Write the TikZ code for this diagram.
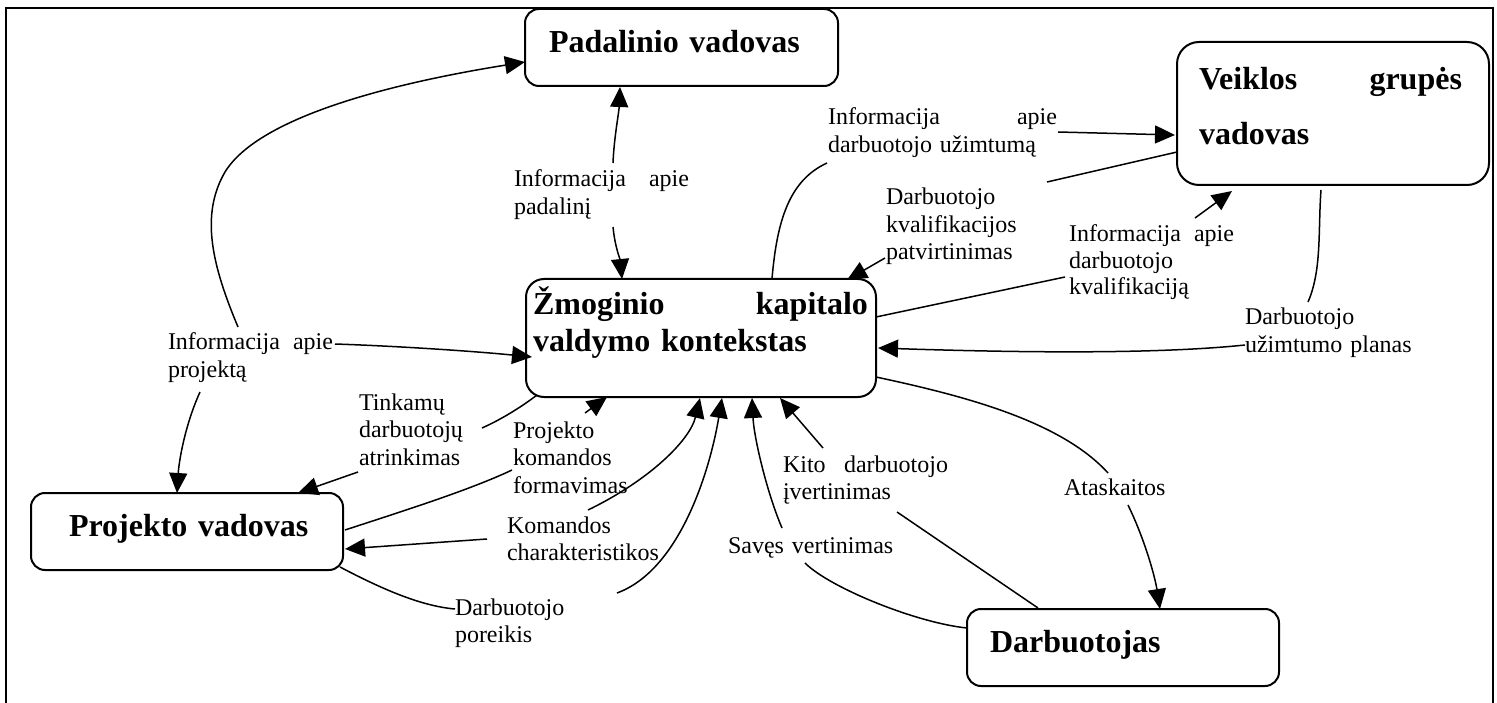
\documentclass[tikz,border=0pt]{standalone}
\usepackage{fontspec}
\setmainfont{Liberation Serif}
\usetikzlibrary{arrows.meta,calc}
% a line set flush to both edges of the given width
\newcommand{\spreadline}[2]{\makebox[#1][s]{#2}}
\begin{document}
\begin{tikzpicture}[x=1pt,y=-1pt,
  box/.style={draw, line width=2pt, rounded corners=14pt, inner sep=0pt, outer sep=0pt, anchor=north west},
  boxtext/.style={font=\fontsize{32}{37}\selectfont\bfseries, anchor=base west, inner sep=0pt, outer sep=0pt, text width=#1, align=left},
  lbl/.style={font=\fontsize{24}{27.5}\selectfont, anchor=base west, inner sep=0pt, outer sep=0pt, text width=#1, align=left},
  flow/.style={line width=1.5pt},
  arr/.style={flow, -{Triangle[length=20pt,width=18pt]}},
]
\useasboundingbox (0,0) rectangle (1497,703);
% outer frame, open at the bottom
\draw[line width=2.5pt] (6,703) -- (6,8) -- (1493,8) -- (1493,703);

% boxes
\node[box, minimum width=313pt, minimum height=77pt] (pad) at (525,9) {};
\node[box, minimum width=312pt, minimum height=143pt, rounded corners=22pt] (veik) at (1177,42) {};
\node[box, minimum width=350pt, minimum height=118pt, rounded corners=18pt] (zmo) at (526,279) {};
\node[box, minimum width=312pt, minimum height=77pt] (proj) at (31,493) {};
\node[box, minimum width=312pt, minimum height=77pt] (darb) at (967,609) {};

% box titles
\node[boxtext=300pt] (padT) at (549,53) {Padalinio vadovas};
\node[boxtext=263pt, font=\fontsize{32}{55}\selectfont\bfseries] (veikT) at (1199,90) {\spreadline{263pt}{Veiklos\hfill grupės}\\vadovas};
\node[boxtext=335pt] (zmoT) at (533,315) {\spreadline{335pt}{Žmoginio\hfill kapitalo}\\valdymo kontekstas};
\node[boxtext=290pt] (projT) at (69,536) {Projekto vadovas};
\node[boxtext=280pt] (darbT) at (990,652) {Darbuotojas};

% flow labels
\node[lbl=175pt] (lA) at (514,187) {\spreadline{175pt}{Informacija\hfill apie}\\padalinį};
\node[lbl=229pt] (lB) at (828,125) {\spreadline{229pt}{Informacija\hfill apie}\\darbuotojo užimtumą};
\node[lbl=160pt] (lC) at (886,205) {Darbuotojo\\kvalifikacijos\\patvirtinimas};
\node[lbl=165pt, font=\fontsize{24}{26.5}\selectfont] (lD) at (1069,242) {\spreadline{165pt}{Informacija\hfill apie}\\darbuotojo\\kvalifikaciją};
\node[lbl=180pt] (lE) at (1245,325) {Darbuotojo\\užimtumo planas};
\node[lbl=165pt] (lF) at (168,350) {\spreadline{165pt}{Informacija\hfill apie}\\projektą};
\node[lbl=110pt] (lG) at (359,410) {Tinkamų\\darbuotojų\\atrinkimas};
\node[lbl=120pt] (lH) at (513,438) {Projekto\\komandos\\formavimas};
\node[lbl=165pt] (lI) at (783,472) {\spreadline{165pt}{Kito\hfill darbuotojo}\\įvertinimas};
\node[lbl=140pt] (lJ) at (507,533) {Komandos\\charakteristikos};
\node[lbl=170pt] (lK) at (728,553) {Savęs vertinimas};
\node[lbl=120pt] (lL) at (455,615) {Darbuotojo\\poreikis};
\node[lbl=110pt] (lM) at (1064,495) {Ataskaitos};

% Informacija apie padalinį (both ways)
\draw[arr] ($(lA.base west)+(99,-24)$) .. controls +(1,-25) and +(-1,25) .. ($(pad.south west)+(95,1)$);
\draw[arr] ($(lA.base west)+(99,40)$) .. controls +(2,20) and +(-2,-20) .. ($(zmo.north west)+(96,0)$);

% Informacija apie darbuotojo užimtumą
\draw[flow] ($(zmo.north west)+(246,0)$) .. controls +(5,-60) and +(-37,17) .. ($(lB.base west)+(-1,38)$);
\draw[arr] ($(lB.base west)+(230,7)$) -- ($(veik.north west)+(-2,93)$);

% Darbuotojo kvalifikacijos patvirtinimas
\draw[flow] ($(veik.north west)+(0,110)$) -- ($(lC.base west)+(161,-23)$);
\draw[arr] ($(lC.base west)+(-1,53)$) -- ($(zmo.north west)+(321,1)$);

% Informacija apie darbuotojo kvalifikaciją
\draw[flow] ($(zmo.north east)+(0,38)$) -- ($(lD.base west)+(-4,35)$);
\draw[arr] ($(lD.base west)+(126,-24)$) -- ($(veik.south west)+(55,6)$);

% Darbuotojo užimtumo planas
\draw[flow] ($(veik.south west)+(144,5)$) .. controls +(-3,40) and +(14,-32) .. ($(lE.base west)+(63,-23)$);
\draw[arr] ($(lE.base west)+(0,20)$) .. controls +(-95,10) and +(122,4) .. ($(zmo.south east)+(2,-49)$);

% Ataskaitos
\draw[flow] ($(zmo.south east)+(0,-20)$) .. controls +(84,18) and +(-48,-53) .. ($(lM.base west)+(44,-22)$);
\draw[arr] ($(lM.base west)+(64,10)$) .. controls +(17,35) and +(-5,-32) .. ($(darb.north west)+(193,0)$);

% Kito darbuotojo įvertinimas
\draw[arr] ($(lI.base west)+(40,-24)$) -- ($(zmo.south west)+(254,1)$);
\draw[flow] ($(lI.base west)+(114,40)$) -- ($(darb.north west)+(71,-1)$);

% Savęs vertinimas
\draw[arr] ($(lK.base west)+(54,-25)$) .. controls +(-15,-35) and +(2,40) .. ($(zmo.south west)+(226,1)$);
\draw[flow] ($(lK.base west)+(77,10)$) .. controls +(25,25) and +(-50,-5) .. ($(darb.north west)+(0,19)$);

% Darbuotojo poreikis
\draw[arr] ($(lL.base west)+(162,-22)$) .. controls +(63,-23) and +(-12,72) .. ($(zmo.south west)+(196,1)$);
\draw[flow] ($(proj.south east)+(-3,-3)$) .. controls +(40,21) and +(-35,-3) .. ($(lL.base west)+(0,-6)$);

% Komandos charakteristikos
\draw[arr] ($(lJ.base west)+(81,-23)$) .. controls +(62,-30) and +(-10,42) .. ($(zmo.south west)+(174,1)$);
\draw[arr] ($(lJ.base west)+(-20,6)$) -- ($(proj.north east)+(2,56)$);

% Projekto komandos formavimas
\draw[flow] ($(proj.north east)+(2,37)$) .. controls +(55,-18) and +(-42,20) .. ($(lH.base west)+(-1,32)$);
\draw[arr] ($(lH.base west)+(72,-25)$) -- ($(zmo.south west)+(81,0)$);

% Tinkamų darbuotojų atrinkimas
\draw[flow] ($(zmo.south west)+(11,-2)$) .. controls +(-17,13) and +(18,-8) .. ($(lG.base west)+(123,18)$);
\draw[arr] ($(lG.base west)+(-1,62)$) -- ($(proj.north west)+(267,0)$);

% Informacija apie projektą
\draw[arr] ($(lF.base west)+(70,-23)$) .. controls +(-26,-62) and +(-25,43) .. (225,172)
  .. controls +(35,-57) and +(-125,20) .. ($(pad.north west)+(0,53)$);
\draw[arr] ($(lF.base west)+(167,-6)$) .. controls +(60,2) and +(-60,-6) .. ($(zmo.north west)+(6,78)$);
\draw[arr] ($(lF.base west)+(32,42)$) .. controls +(-15,33) and +(2,-32) .. ($(proj.north west)+(146,0)$);
\end{tikzpicture}
\end{document}
